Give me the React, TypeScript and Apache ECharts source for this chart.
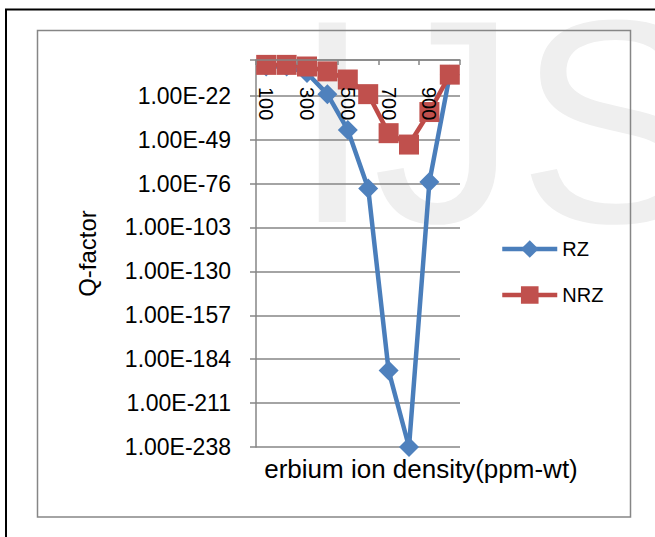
import React, { useEffect, useRef } from 'react';
import * as echarts from 'echarts';

const categories = ['100', '200', '300', '400', '500', '600', '700', '800', '900', '1000'];
const rzValues = [1e-4, 1e-4, 1e-8, 1e-21, 1e-43, 1e-79, 1e-191, 1e-238, 1e-75, 1e-9];
const nrzValues = [1e-3, 1e-3, 1e-4, 1e-7, 1e-12, 1e-21, 1e-45, 1e-52, 1e-32, 1e-9];
const seriesNames = ['RZ', 'NRZ'];
// y axis is logarithmic (base 10): extent and tick step in decades
const yMinDecade = -238;
const yMaxDecade = 0;
const yIntervalDecades = 27;
const xAxisTitle = 'erbium ion density(ppm-wt)';
const yAxisTitle = 'Q-factor';
const watermark = 'IJS';

const FONT = "'Liberation Sans', Arial, sans-serif";
const GRID = '#868686';

const toDecades = (arr: number[]) => arr.map((v) => Math.log10(v));

function fmtY(v: number): string {
  const e = Math.round(v);
  if (e >= 0) return '';
  return '1.00E-' + String(-e).padStart(2, '0');
}

export default function App() {
  const ref = useRef<HTMLDivElement>(null);
  useEffect(() => {
    const chart = echarts.init(ref.current!, null, { renderer: 'svg' });
    chart.setOption({
      animation: false,
      backgroundColor: '#ffffff',
      textStyle: { fontFamily: FONT },
      grid: { left: 256, top: 60, right: 195, bottom: 90, containLabel: false },
      legend: {
        data: seriesNames,
        orient: 'vertical',
        left: 500,
        top: 239,
        padding: 0,
        itemWidth: 55,
        itemHeight: 22,
        itemGap: 26,
        lineStyle: { width: 4.5 },
        textStyle: { fontSize: 20, color: '#000', fontFamily: FONT },
      },
      xAxis: {
        type: 'category',
        data: categories,
        position: 'top',
        boundaryGap: true,
        z: 5,
        axisLine: { show: true, onZero: false, lineStyle: { color: GRID, width: 1.5 } },
        axisTick: { show: true, inside: true, length: 5, lineStyle: { color: GRID, width: 1.5 } },
        axisLabel: { inside: true, rotate: 90, interval: 1, margin: 27, fontSize: 20, color: '#000', fontFamily: FONT },
        splitLine: { show: false },
      },
      yAxis: {
        type: 'value',
        min: yMinDecade,
        max: yMaxDecade,
        interval: yIntervalDecades,
        name: yAxisTitle,
        nameLocation: 'middle',
        nameGap: 157,
        nameTextStyle: { fontSize: 24, color: '#000', fontFamily: FONT },
        axisLine: { show: true, lineStyle: { color: GRID, width: 1.5 } },
        axisTick: { show: true, length: 6, lineStyle: { color: GRID, width: 1.5 } },
        axisLabel: { formatter: fmtY, fontSize: 23, color: '#000', margin: 25, fontFamily: FONT },
        splitLine: { show: true, lineStyle: { color: GRID, width: 1.5 } },
      },
      graphic: [
        {
          type: 'text', x: 292, y: 121, z: -10, silent: true,
          style: { text: watermark, font: `290px ${FONT}`, fill: '#efefef', verticalAlign: 'middle', align: 'left' },
        },
        {
          type: 'rect', z: -5, silent: true,
          shape: { x: 6, y: 9.5, width: 700, height: 600 },
          style: { fill: 'none', stroke: '#000', lineWidth: 2 },
        },
        {
          type: 'rect', z: -5, silent: true,
          shape: { x: 37.5, y: 30.5, width: 593, height: 486.5 },
          style: { fill: 'none', stroke: GRID, lineWidth: 1.5 },
        },
        {
          type: 'text', x: 421, y: 469, silent: true,
          style: { text: xAxisTitle, font: `26px ${FONT}`, fill: '#000', align: 'center', verticalAlign: 'middle' },
        },
      ],
      series: [
        {
          name: seriesNames[0],
          type: 'line',
          data: toDecades(rzValues),
          symbol: 'diamond',
          symbolSize: 20,
          showAllSymbol: true,
          color: '#4f81bd',
          lineStyle: { color: '#4a7ebb', width: 4.5 },
          itemStyle: { color: '#4f81bd' },
          clip: false,
        },
        {
          name: seriesNames[1],
          type: 'line',
          data: toDecades(nrzValues),
          symbol: 'rect',
          symbolSize: 20,
          showAllSymbol: true,
          color: '#c0504d',
          lineStyle: { color: '#be4b48', width: 4.5 },
          itemStyle: { color: '#c0504d' },
          clip: false,
        },
      ],
    });
    return () => chart.dispose();
  }, []);
  return <div ref={ref} style={{ position: 'fixed', left: 0, top: 0, width: 655, height: 537 }} />;
}
